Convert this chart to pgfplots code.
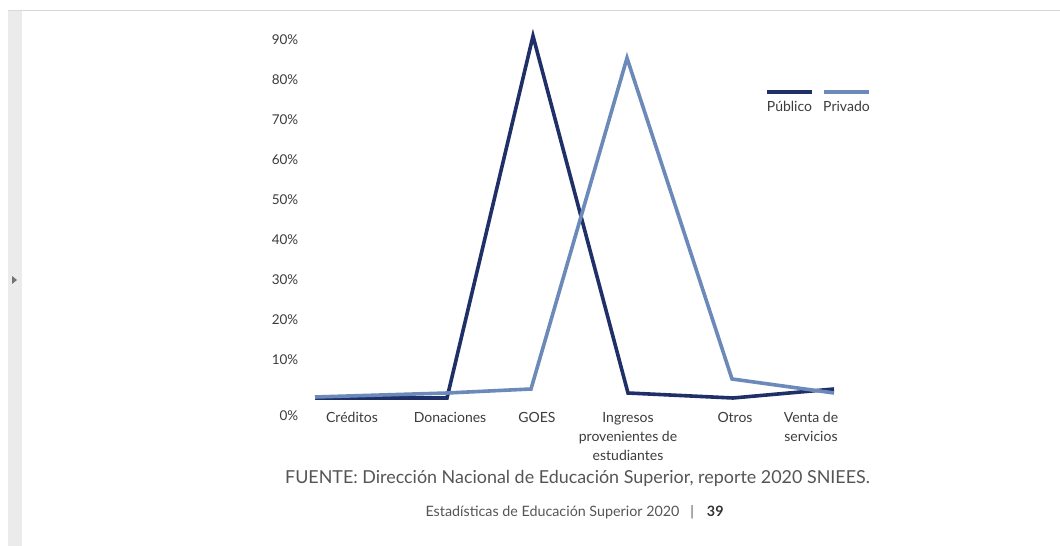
\documentclass[border=0pt]{standalone}
\usepackage{pgfplots}
\pgfplotsset{compat=1.18}
\usepackage{fontspec}
\setmainfont{Lato}
\definecolor{publico}{HTML}{1F3068}
\definecolor{privado}{HTML}{6B89B9}
\definecolor{txt}{HTML}{3C3C3C}
\definecolor{srcgray}{HTML}{555555}
\definecolor{strip}{HTML}{EBEBEB}
\definecolor{topline}{HTML}{D8D8D8}
\begin{document}
\begin{tikzpicture}[x=1pt,y=1pt]
\useasboundingbox (0,0) rectangle (1060,546);
\fill[white] (0,0) rectangle (1060,546);
\fill[strip] (8,0) rectangle (22,535);
\draw[topline, line width=1.5pt] (8,535.5) -- (1060,535.5);
\fill[black!55] (12,270) -- (12,262) -- (17,266) -- cycle;
\begin{axis}[
  at={(300pt,146pt)}, anchor=south west,
  scale only axis, width=560pt, height=360pt,
  xmin=0, xmax=5.6, ymin=0, ymax=90,
  clip=false,
  axis line style={draw=none},
  tick style={draw=none},
  ytick={10,20,30,40,50,60,70,80,90},
  yticklabels={10\%,20\%,30\%,40\%,50\%,60\%,70\%,80\%,90\%},
  extra y ticks={0},
  extra y tick labels={0\%},
  extra y tick style={yticklabel style={yshift=-16pt}},
  yticklabel style={font=\fontsize{13.5}{15}\selectfont, text=txt, inner sep=1.5pt},
  xtick={0.52,1.50,2.37,3.28,4.35,5.11},
  xticklabels={Créditos,Donaciones,GOES,{Ingresos\\provenientes de\\estudiantes},Otros,{Venta de\\servicios}},
  xticklabel style={font=\fontsize{14}{19}\selectfont, text=txt, align=center, yshift=-9pt},
]
\addplot[publico, line width=3.6pt] coordinates {
  (0.15,0.5) (1.47,0.5) (2.33,91) (3.28,1.75) (4.33,0.5) (5.34,2.75)
};
\addplot[privado, line width=3.6pt] coordinates {
  (0.15,0.75) (1.47,1.75) (2.31,2.75) (3.27,85.5) (4.32,5.25) (5.34,1.75)
};
\end{axis}
\draw[publico, line width=4.5pt] (767,454) -- (812,454);
\draw[privado, line width=4.5pt] (824,454) -- (869,454);
\node[text=txt, font=\fontsize{14}{15}\selectfont] at (789.5,440) {Público};
\node[text=txt, font=\fontsize{14}{15}\selectfont] at (846.5,440) {Privado};
\node[text=srcgray, font=\fontsize{17.9}{20}\selectfont] at (577.5,68) {FUENTE: Dirección Nacional de Educación Superior, reporte 2020 SNIEES.};
\node[text=srcgray, font=\fontsize{14.3}{16}\selectfont, anchor=west] at (422,34) {Estadísticas de Educación Superior 2020\hspace{11pt}|\hspace{13pt}\textcolor{black!80}{\bfseries 39}};
\end{tikzpicture}
\end{document}
